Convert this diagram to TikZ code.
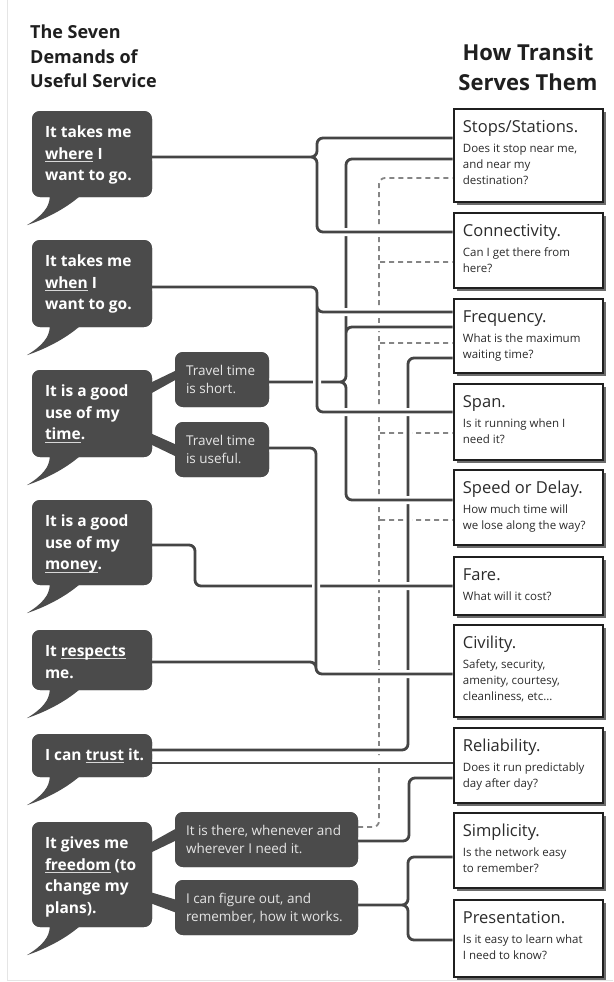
\documentclass[tikz,border=0pt]{standalone}
\usepackage{fontspec}
\setmainfont{Open Sans}
\usetikzlibrary{shadows,calc}
\definecolor{bubc}{HTML}{4B4B4B}
\definecolor{wirec}{HTML}{454545}
\definecolor{dashc}{HTML}{858585}
\definecolor{boxc}{HTML}{1F1F1F}
\definecolor{txtc}{HTML}{2B2B2B}
\definecolor{ulc}{HTML}{D8D8D8}
\newcommand\keyw[1]{\setbox0\hbox{#1}\rlap{\textcolor{ulc}{\rule[-3pt]{\wd0}{0.9pt}}}\box0\relax}
\newcommand\bubtail[1]{\fill[bubc] ($(#1.south west)+(48,-1)$) .. controls ($(#1.south west)+(33,12)$) and ($(#1.south west)+(13,22)$) .. ($(#1.south west)+(-5,28)$) .. controls ($(#1.south west)+(10,19)$) and ($(#1.south west)+(18,10)$) .. ($(#1.south west)+(18,-1)$) -- cycle;}
\newcommand\boxtext[3]{%
  \node[btitle, anchor=base west] (#1t) at ($(#1.north west)+(10,25)$) {#2};
  \node[bdesc, anchor=base west] (#1d) at ($(#1.north west)+(10,45)$) {\begin{tabular}[t]{@{}l@{}}#3\end{tabular}};}
\newcommand\bubtext[2]{%
  \node[btext, anchor=base west] (#1t) at ($(#1.north west)+(13,26.5)$) {\begin{tabular}[t]{@{}l@{}}#2\end{tabular}};}
\newcommand\sbubtext[2]{%
  \node[stext, anchor=base west] (#1t) at ($(#1.north west)+(11,23.5)$) {\begin{tabular}[t]{@{}l@{}}#2\end{tabular}};}
\begin{document}
\begin{tikzpicture}[x=1pt,y=-1pt,
  bubble/.style={fill=bubc, rounded corners=8pt, minimum width=120pt, inner sep=0pt},
  sbubble/.style={fill=bubc, rounded corners=8pt, inner sep=0pt},
  tbox/.style={draw=boxc, line width=2.6pt, fill=white, minimum width=149pt, inner sep=0pt,
    drop shadow={shadow xshift=2.5pt, shadow yshift=-2.5pt, opacity=0.35, fill=black}},
  btitle/.style={inner sep=0pt, text=txtc, font=\fontsize{16.5}{18}\selectfont},
  bdesc/.style={inner sep=0pt, text=txtc, font=\fontsize{11.5}{16}\selectfont},
  btext/.style={inner sep=0pt, text=white, font=\fontsize{15.5}{21.7}\selectfont\bfseries},
  stext/.style={inner sep=0pt, text=white!90!black, font=\fontsize{13.5}{18}\selectfont},
  wire/.style={draw=wirec, line width=2.8pt, rounded corners=6pt, preaction={draw=white, line width=8pt}},
  dline/.style={draw=dashc, line width=1.8pt, dash pattern=on 5pt off 4pt, rounded corners=6pt},
  head/.style={inner sep=0pt, text=black!88, font=\bfseries}
]
\useasboundingbox (0,0) rectangle (613,982);
\fill[white] (0,0) rectangle (613,982);
\draw[black!10, line width=0.8pt] (7,0) -- (7,980) -- (613,980);

% headers
\node[head, anchor=base west, font=\fontsize{18}{25}\selectfont\bfseries] (hl) at (30,38)
  {\begin{tabular}[t]{@{}l@{}}The Seven\\ Demands of\\ Useful Service\end{tabular}};
\node[head, anchor=base, font=\fontsize{22}{30}\selectfont\bfseries] (hr) at (528,60)
  {\begin{tabular}[t]{@{}c@{}}How Transit\\ Serves Them\end{tabular}};

% node placement (boxes and bubbles)
\path
  (528.5,155.5) node[tbox, minimum height=93pt] (stops) {}
  (528.5,250.5) node[tbox, minimum height=75pt] (conn) {}
  (528.5,336)   node[tbox, minimum height=74pt] (freq) {}
  (528.5,422)   node[tbox, minimum height=76pt] (span) {}
  (528.5,507.5) node[tbox, minimum height=75pt] (speed) {}
  (528.5,586)   node[tbox, minimum height=58pt] (fare) {}
  (528.5,671)   node[tbox, minimum height=92pt] (civ) {}
  (528.5,765.5) node[tbox, minimum height=75pt] (rel) {}
  (528.5,850.5) node[tbox, minimum height=75pt] (simp) {}
  (528.5,938.5) node[tbox, minimum height=77pt] (pres) {};
\path
  (92,154)    node[bubble, minimum height=86pt] (b1) {}
  (92,283.5)  node[bubble, minimum height=87pt] (b2) {}
  (92,413.5)  node[bubble, minimum height=87pt] (b3) {}
  (92,542.5)  node[bubble, minimum height=85pt] (b4) {}
  (92,660)    node[bubble, minimum height=60pt] (b5) {}
  (92,755.5)  node[bubble, minimum height=43pt] (b6) {}
  (92,874.5)  node[bubble, minimum height=105pt] (b7) {}
  (222,379.5) node[sbubble, minimum width=94pt, minimum height=55pt] (s1) {}
  (222,449.5) node[sbubble, minimum width=94pt, minimum height=55pt] (s2) {}
  (266.5,839.5) node[sbubble, minimum width=183pt, minimum height=55pt] (s3) {}
  (266.5,907.5) node[sbubble, minimum width=183pt, minimum height=55pt] (s4) {};

% connectors (drawn in layering order)
% dashed: "It is there" -> stops, conn, freq, span, speed
\draw[dline] (s3.east |- 0,827) -- (379,827) -- (379,178) -- (stops.west |- 0,178)
  (380,262) -- (conn.west |- 0,262)
  (380,343) -- (freq.west |- 0,343)
  (380,433) -- (span.west |- 0,433)
  (380,520) -- (speed.west |- 0,520);
% trust -> frequency
\draw[wire] (b6.east |- 0,750) -- (408,750) -- (408,358) -- (freq.west |- 0,358);
% short travel time -> stops, frequency, speed
\draw[wire] (s1.east |- 0,382) -- (346,382) -- (346,159) -- (stops.west |- 0,159)
  (s1.east |- 0,382) -- (346,382) -- (346,500) -- (speed.west |- 0,500)
  (346,345) -- (346,327) -- (freq.west |- 0,327);
% money -> fare
\draw[wire] (b4.east |- 0,545) -- (195,545) -- (195,586) -- (fare.west |- 0,586);
% when -> frequency, span
\draw[wire] (b2.east |- 0,287) -- (317,287) -- (317,412) -- (span.west |- 0,412)
  (317,300) -- (317,312) -- (freq.west |- 0,312);
% where -> stops, connectivity
\draw[wire] (b1.east |- 0,157) -- (317,157) -- (317,138) -- (stops.west |- 0,138)
  (b1.east |- 0,157) -- (317,157) -- (317,232) -- (conn.west |- 0,232);
% useful, respects -> civility
\draw[wire] (s2.east |- 0,448) -- (316,448) -- (316,674) -- (civ.west |- 0,674)
  (b5.east |- 0,662) -- (316,662) -- (316,674) -- (civ.west |- 0,674);
% trust -> reliability
\draw[wire] (b6.east |- 0,763) -- (rel.west |- 0,763);
% it is there -> reliability
\draw[wire] (s3.east |- 0,841) -- (409,841) -- (409,778) -- (rel.west |- 0,778);
% figure out -> simplicity, presentation
\draw[wire] (s4.east |- 0,905) -- (408,905) -- (408,857) -- (simp.west |- 0,857)
  (s4.east |- 0,905) -- (408,905) -- (408,940) -- (pres.west |- 0,940);

% redraw boxes on top
\path
  (528.5,155.5) node[tbox, minimum height=93pt] (stops) {}
  (528.5,250.5) node[tbox, minimum height=75pt] (conn) {}
  (528.5,336)   node[tbox, minimum height=74pt] (freq) {}
  (528.5,422)   node[tbox, minimum height=76pt] (span) {}
  (528.5,507.5) node[tbox, minimum height=75pt] (speed) {}
  (528.5,586)   node[tbox, minimum height=58pt] (fare) {}
  (528.5,671)   node[tbox, minimum height=92pt] (civ) {}
  (528.5,765.5) node[tbox, minimum height=75pt] (rel) {}
  (528.5,850.5) node[tbox, minimum height=75pt] (simp) {}
  (528.5,938.5) node[tbox, minimum height=77pt] (pres) {};
\boxtext{stops}{Stops/Stations.}{Does it stop near me,\\ and near my\\ destination?}
\boxtext{conn}{Connectivity.}{Can I get there from\\ here?}
\boxtext{freq}{Frequency.}{What is the maximum\\ waiting time?}
\boxtext{span}{Span.}{Is it running when I\\ need it?}
\boxtext{speed}{Speed or Delay.}{How much time will\\ we lose along the way?}
\boxtext{fare}{Fare.}{What will it cost?}
\boxtext{civ}{Civility.}{Safety, security,\\ amenity, courtesy,\\ cleanliness, etc...}
\boxtext{rel}{Reliability.}{Does it run predictably\\ day after day?}
\boxtext{simp}{Simplicity.}{Is the network easy\\ to remember?}
\boxtext{pres}{Presentation.}{Is it easy to learn what\\ I need to know?}

% bubbles on top
\path
  (92,154)    node[bubble, minimum height=86pt] (b1) {}
  (92,283.5)  node[bubble, minimum height=87pt] (b2) {}
  (92,413.5)  node[bubble, minimum height=87pt] (b3) {}
  (92,542.5)  node[bubble, minimum height=85pt] (b4) {}
  (92,660)    node[bubble, minimum height=60pt] (b5) {}
  (92,755.5)  node[bubble, minimum height=43pt] (b6) {}
  (92,874.5)  node[bubble, minimum height=105pt] (b7) {}
  (222,379.5) node[sbubble, minimum width=94pt, minimum height=55pt] (s1) {}
  (222,449.5) node[sbubble, minimum width=94pt, minimum height=55pt] (s2) {}
  (266.5,839.5) node[sbubble, minimum width=183pt, minimum height=55pt] (s3) {}
  (266.5,907.5) node[sbubble, minimum width=183pt, minimum height=55pt] (s4) {};
\bubtail{b1}\bubtail{b2}\bubtail{b3}\bubtail{b4}\bubtail{b5}\bubtail{b6}\bubtail{b7}
% wedges linking bubbles to small bubbles
\fill[bubc] (150,383) -- (177,370) -- (177,379) -- (150,394) -- cycle;
\fill[bubc] (150,433) -- (177,445) -- (177,457) -- (150,444) -- cycle;
\fill[bubc] (150,843) -- (177,828) -- (177,840) -- (150,853) -- cycle;
\fill[bubc] (150,892) -- (177,900) -- (177,913) -- (150,903) -- cycle;

\bubtext{b1}{It takes me\\ \keyw{where} I\\ want to go.}
\bubtext{b2}{It takes me\\ \keyw{when} I\\ want to go.}
\bubtext{b3}{It is a good\\ use of my\\ \keyw{time}.}
\bubtext{b4}{It is a good\\ use of my\\ \keyw{money}.}
\bubtext{b5}{It \keyw{respects}\\ me.}
\bubtext{b6}{I can \keyw{trust} it.}
\bubtext{b7}{It gives me\\ \keyw{freedom} (to\\ change my\\ plans).}
\sbubtext{s1}{Travel time\\ is short.}
\sbubtext{s2}{Travel time\\ is useful.}
\sbubtext{s3}{It is there, whenever and\\ wherever I need it.}
\sbubtext{s4}{I can figure out, and\\ remember, how it works.}
\end{tikzpicture}
\end{document}
